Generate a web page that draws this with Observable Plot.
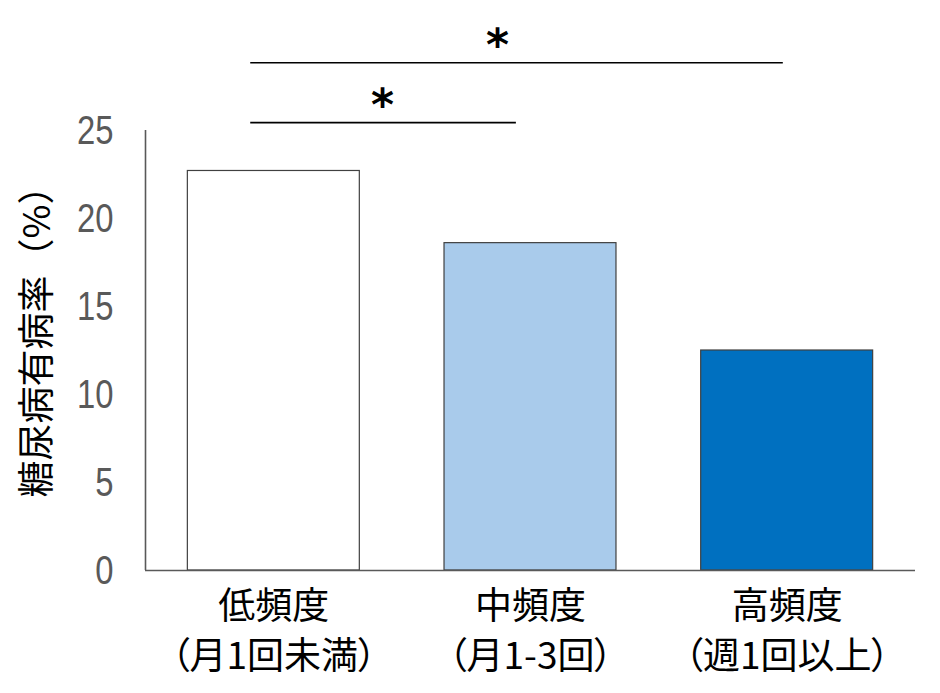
<!DOCTYPE html>
<html>
<head>
<meta charset="utf-8">
<script src="https://cdn.jsdelivr.net/npm/d3@7"></script>
<script src="https://cdn.jsdelivr.net/npm/@observablehq/plot@0.6"></script>
<style>
  html, body { margin: 0; padding: 0; background: #fff; }
  #chart svg { display: block; }
</style>
</head>
<body>
<div id="chart"></div>
<script>
// Data
const categories = ["低頻度", "中頻度", "高頻度"];
const subLabels = ["（月1回未満）", "（月1-3回）", "（週1回以上）"];
const prevalence = [22.7, 18.6, 12.5];
const barColors = ["#ffffff", "#a9cbeb", "#0070c0"];
const yTicks = [0, 5, 10, 15, 20, 25];
const yLabel = "糖尿病有病率（%）";
// significance brackets: pair of category indices, level (in %), label
const bracketFrom = [0, 0];
const bracketTo = [1, 2];
const bracketLevel = [25.45, 28.85];
const bracketText = ["*", "*"];

const bars = categories.map((c, i) => ({i, c, sub: subLabels[i], v: prevalence[i], color: barColors[i]}));
const brackets = bracketFrom.map((f, k) => ({from: f, to: bracketTo[k], level: bracketLevel[k], text: bracketText[k]}));

const cjk = "'Noto Sans CJK JP', 'Noto Sans', sans-serif";

const chart = Plot.plot({
  width: 940,
  height: 693,
  marginLeft: 145,
  marginRight: 25,
  marginTop: 130,
  marginBottom: 123,
  style: {background: "#fff", overflow: "visible"},
  x: {type: "linear", domain: [0, 3], axis: null},
  y: {domain: [0, 25], axis: null},
  marks: [
    Plot.rect(bars, {
      x1: d => d.i + 0.165,
      x2: d => d.i + 0.835,
      y1: 0,
      y2: "v",
      fill: "color",
      stroke: "#404040",
      strokeWidth: 1.2
    }),
    Plot.ruleY([0], {stroke: "#595959", strokeWidth: 1.6}),
    Plot.ruleX([0], {stroke: "#595959", strokeWidth: 1.6}),
    Plot.axisY({
      ticks: yTicks,
      tickSize: 0,
      tickPadding: 32,
      label: null,
      fill: "#595959",
      fontSize: 41,
      fontFamily: "'Liberation Sans', Arial, sans-serif"
    }),
    Plot.text(bars, {
      x: d => d.i + 0.5,
      y: 0,
      text: d => d.c + "\n" + d.sub,
      lineAnchor: "top",
      lineHeight: 1.35,
      dy: 13,
      fontSize: 37,
      fontFamily: cjk,
      fill: "#000"
    }),
    Plot.text([yLabel], {
      frameAnchor: "left",
      textAnchor: "middle",
      dx: -107,
      dy: -18,
      rotate: -90,
      fontSize: 37,
      fontFamily: cjk,
      fill: "#000"
    }),
    Plot.ruleY(brackets, {
      y: "level",
      x1: d => d.from + 0.41,
      x2: d => d.to * 1.04 + 0.405,
      stroke: "#000",
      strokeWidth: 1.6,
      clip: false
    }),
    Plot.text(brackets, {
      x: d => d.from + 0.475 + 0.448 * (d.to - d.from),
      y: "level",
      text: "text",
      dy: -3,
      lineAnchor: "bottom",
      fontSize: 44,
      fontWeight: "bold",
      fontFamily: "'DejaVu Sans', sans-serif",
      fill: "#000"
    })
  ]
});

// condense the numeric tick labels like the reference's narrow font
chart.querySelectorAll('g[aria-label="y-axis tick label"] text').forEach(t => {
  const tr = t.getAttribute("transform") || "";
  t.setAttribute("transform", tr + " scale(0.8,1)");
});
// proportional punctuation for the category labels
chart.querySelectorAll("text").forEach(t => {
  if (t.textContent.includes("頻度")) t.style.fontFeatureSettings = '"palt"';
});
document.getElementById("chart").appendChild(chart);
</script>
</body>
</html>
